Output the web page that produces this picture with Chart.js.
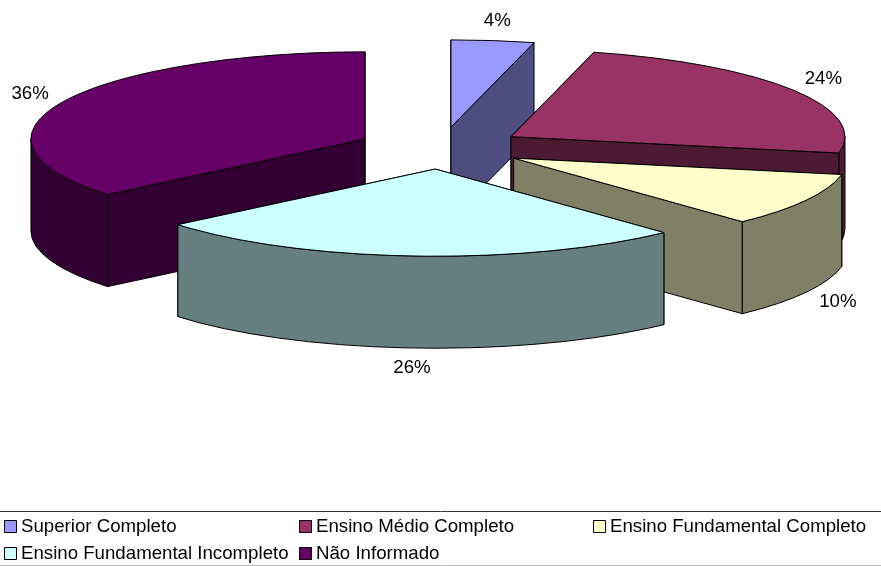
<!DOCTYPE html>
<html lang="pt">
<head>
<meta charset="utf-8">
<style>html,body{margin:0;padding:0;background:#fff}canvas{display:block}</style>
<script src="https://cdn.jsdelivr.net/npm/chart.js@4"></script>
</head>
<body>
<canvas id="c" width="881" height="566"></canvas>
<script>
const categories = ['Superior Completo','Ensino Médio Completo','Ensino Fundamental Completo','Ensino Fundamental Incompleto','Não Informado'];
const percentages = [4,24,10,26,36];
const topColors = ['#9999FF','#993366','#FFFFCC','#CCFFFF','#660066'];
const sideColors = ['#4D4D80','#4D1A33','#808066','#668080','#330033'];
const drawOrder = [4,0,1,2,3];

const FONT = '18.67px "Liberation Sans", Arial, sans-serif';
const SQUASH = 0.261, EXPLODE_SQUASH = 0.2527, DEPTH = 92, EXPLODE = 83.5, RADIUS = 334;
const LEGEND_COLS = [4,299,593], LEGEND_ROWS = [520,547], LEGEND_TOP = 511, LEGEND_BOTTOM = 565;

const pie3d = {
  id:'pie3d',
  beforeDatasetsDraw(chart){
    const ctx = chart.ctx, arcs = chart.getDatasetMeta(0).data;
    const sx = a => Math.cos(a), sy = a => Math.sin(a);
    const fmtStroke = () => { ctx.strokeStyle='#000'; ctx.lineWidth=1; ctx.lineJoin='round'; };
    drawOrder.forEach(i => {
      const arc = arcs[i];
      const a0 = arc.startAngle, a1 = arc.endAngle, mid = (a0+a1)/2, R = arc.outerRadius;
      const dx = Math.cos(mid)*EXPLODE, dy = Math.sin(mid)*EXPLODE;
      const ax = arc.x+dx, ay = arc.y+dy*EXPLODE_SQUASH;
      const rim = a => [ax+R*sx(a), ay+R*SQUASH*sy(a)];
      // cut faces, back one first
      [a0,a1].sort((p,q)=>sy(p)-sy(q)).forEach(a => {
        const p = rim(a);
        ctx.beginPath();
        ctx.moveTo(ax,ay); ctx.lineTo(p[0],p[1]);
        ctx.lineTo(p[0],p[1]+DEPTH); ctx.lineTo(ax,ay+DEPTH); ctx.closePath();
        ctx.fillStyle = sideColors[i]; ctx.fill();
        fmtStroke(); ctx.stroke();
      });
      // outer wall, front half of the ellipse only
      const norm = a => { let v=a; while(v>Math.PI*1.5) v-=Math.PI*2; while(v<-Math.PI*0.5) v+=Math.PI*2; return v; };
      let n0 = norm(a0), n1 = n0+(a1-a0);
      const w0 = Math.max(n0,0), w1 = Math.min(n1,Math.PI);
      if (w1>w0){
        ctx.beginPath();
        ctx.ellipse(ax,ay,R,R*SQUASH,0,w0,w1);
        ctx.ellipse(ax,ay+DEPTH,R,R*SQUASH,0,w1,w0,true);
        ctx.closePath();
        ctx.fillStyle = sideColors[i]; ctx.fill();
        fmtStroke(); ctx.stroke();
      }
      // top face: the library's own arc element, in a squashed, exploded frame
      ctx.save();
      ctx.translate(ax,ay); ctx.scale(1,SQUASH); ctx.translate(-arc.x,-arc.y);
      arc.draw(ctx);
      ctx.restore();
      ctx.beginPath();
      ctx.moveTo(ax,ay);
      ctx.ellipse(ax,ay,R,R*SQUASH,0,a0,a1);
      ctx.closePath();
      fmtStroke(); ctx.stroke();
    });
    // percentage labels
    ctx.font = FONT; ctx.fillStyle='#000'; ctx.textAlign='center'; ctx.textBaseline='middle';
    arcs.forEach((arc,i) => {
      const mid = (arc.startAngle+arc.endAngle)/2;
      const x = arc.x+(arc.outerRadius+EXPLODE)*Math.cos(mid);
      const y = arc.y+(arc.outerRadius*SQUASH+EXPLODE*EXPLODE_SQUASH)*Math.sin(mid);
      const front = Math.sin(mid)>0 ? DEPTH : 0;
      ctx.fillText(percentages[i]+'%', x+Math.cos(mid)*36, y+front+Math.sin(mid)*20);
    });
    // legend
    ctx.lineWidth=1;
    ctx.strokeStyle='#333';
    ctx.beginPath(); ctx.moveTo(0,LEGEND_TOP+.5); ctx.lineTo(881,LEGEND_TOP+.5); ctx.stroke();
    ctx.strokeStyle='#bbb';
    ctx.beginPath(); ctx.moveTo(0,LEGEND_BOTTOM+.5); ctx.lineTo(881,LEGEND_BOTTOM+.5); ctx.stroke();
    ctx.textAlign='left'; ctx.textBaseline='alphabetic';
    categories.forEach((label,i) => {
      const row = Math.floor(i/3), col = i===3?0:i===4?1:i;
      const x = LEGEND_COLS[col], y = LEGEND_ROWS[row];
      ctx.fillStyle = topColors[i]; ctx.fillRect(x+.5,y+.5,12,12);
      ctx.strokeStyle='#000'; ctx.strokeRect(x+.5,y+.5,12,12);
      ctx.fillStyle='#000';
      ctx.fillText(label,x+17,y+12);
    });
    return false;
  }
};

new Chart(document.getElementById('c'),{
  type:'pie',
  data:{labels:categories,datasets:[{data:percentages,backgroundColor:topColors,borderWidth:0,radius:RADIUS,clip:false}]},
  options:{
    responsive:false,animation:false,
    layout:{padding:{top:0,left:0,right:0,bottom:270}},
    plugins:{legend:{display:false},tooltip:{enabled:false},title:{display:false}}
  },
  plugins:[pie3d]
});
</script>
</body>
</html>
